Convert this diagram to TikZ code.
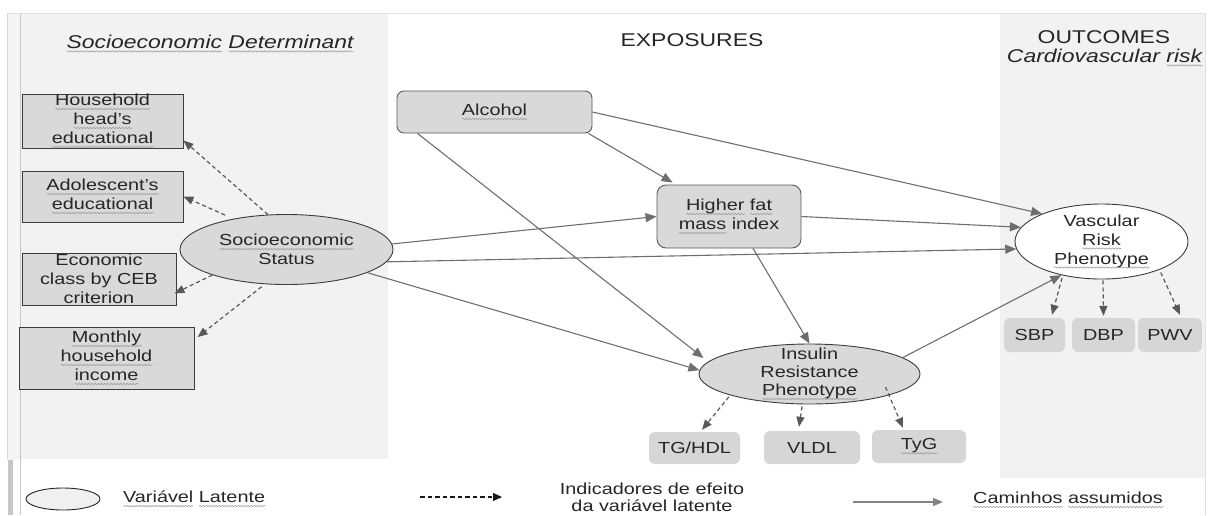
\documentclass[tikz,border=0pt]{standalone}
\usepackage{fontspec}
\setmainfont{Liberation Sans}[FakeStretch=1.24]
\usetikzlibrary{shapes.geometric,arrows.meta,calc,decorations.pathmorphing}

\definecolor{panelgray}{HTML}{F2F2F2}
\definecolor{nodegray}{HTML}{D9D9D9}
\definecolor{indgray}{HTML}{D6D6D6}
\definecolor{edgegray}{HTML}{3C3C3C}
\definecolor{pathgray}{HTML}{6E6E6E}
\definecolor{dashgray}{HTML}{585858}
\definecolor{inkgray}{HTML}{262626}

% light wavy underline under flagged words
\newsavebox\wvbox
\newcommand\wv[1]{\sbox\wvbox{#1}\rlap{\tikz[baseline=0pt]{\path (0pt,0pt);
  \draw[draw=black!38, fill=none, sharp corners, solid, -, line width=0.6pt,
        decorate, decoration={snake, amplitude=0.7pt, segment length=3.2pt}]
  (0pt,-3.4pt) -- (\wd\wvbox,-3.4pt);}}\usebox\wvbox}

\begin{document}
\begin{tikzpicture}[x=1pt,y=-1pt,
  every node/.style={font=\fontsize{16}{19}\selectfont, text=inkgray, align=center, inner sep=0pt},
  heading/.style={font=\fontsize{18.5}{22}\selectfont},
  itheading/.style={font=\fontsize{18.5}{22}\selectfont\itshape},
  sqbox/.style={draw=edgegray, line width=0.9pt, fill=nodegray},
  rbox/.style={draw=edgegray!85, line width=0.9pt, fill=nodegray, rounded corners=7pt},
  indbox/.style={fill=indgray, rounded corners=6pt},
  latent/.style={ellipse, draw=edgegray, line width=0.9pt, fill=nodegray},
  assumed/.style={draw=pathgray, line width=1.1pt, -{Triangle[length=11pt,width=9pt]}},
  ind/.style={draw=dashgray, line width=1.2pt, dash pattern=on 4pt off 3pt, -{Triangle[length=10pt,width=8pt]}},
]
\useasboundingbox (0,0) rectangle (1214,515);

% ---- panels and frame ----
\fill[black!4] (7,13) rectangle (20,460);
\fill[panelgray] (20,14) rectangle (388,459);
\fill[panelgray] (1000,14) rectangle (1205,478);
\draw[black!12, line width=0.8pt] (7,13.5) -- (1206,13.5);
\draw[black!14, line width=0.8pt] (7.5,13) -- (7.5,460);
\draw[black!22, line width=0.9pt] (20,14) -- (20,515);
\fill[black!22] (8,460) rectangle (13,515);
\draw[black!12, line width=0.8pt] (1205.5,13) -- (1205.5,515);

% ---- headings ----
\node[itheading, anchor=base] (hSoc) at (210,48) {\wv{Socioeconomic} \wv{Determinant}};
\node[heading, anchor=base] (hExp) at (692,46) {EXPOSURES};
\node[heading, anchor=base] (hOut) at (1104,43) {OUTCOMES};
\node[itheading, anchor=base] (hCv) at (1104.5,62) {Cardiovascular \wv{risk}};

% ---- socioeconomic indicators ----
\node[sqbox, minimum width=161pt, minimum height=54pt] (hh) at (102.5,121) {\wv{Household}\\\wv{head's}\\\wv{educational}};
\node[sqbox, minimum width=161pt, minimum height=51pt] (ado) at (102.5,196.5) {\wv{Adolescent's}\\\wv{educational}};
\node[sqbox, minimum width=154pt, minimum height=52pt] (eco) at (99,279) {Economic\\class by CEB\\criterion};
\node[sqbox, minimum width=175pt, minimum height=62pt] (mon) at (106.5,358) {\wv{Monthly}\\\wv{household}\\\wv{income}};

\node[latent, minimum width=213pt, minimum height=70pt] (ses) at (286.5,249.5) {};
\node (sesT) at (ses) {\wv{Socioeconomic}\\Status};

% ---- exposures ----
\node[rbox, minimum width=195pt, minimum height=42pt] (alc) at (494.5,112) {\wv{Alcohol}};
\node[rbox, minimum width=144pt, minimum height=63pt, rounded corners=9pt] (hfm) at (729,216.5) {\wv{Higher} \wv{fat}\\\wv{mass} index};

\node[latent, minimum width=221pt, minimum height=60pt] (irp) at (809.5,374) {};
\node[font=\fontsize{16}{18}\selectfont] (irpT) at (irp) {Insulin\\Resistance\\\wv{Phenotype}};

\node[indbox, minimum width=91pt, minimum height=32pt] (tg) at (694.5,448) {TG/HDL};
\node[indbox, minimum width=96pt, minimum height=33pt] (vldl) at (812,447.5) {VLDL};
\node[indbox, minimum width=94pt, minimum height=33pt] (tyg) at (919,446.5) {\wv{TyG}};

% ---- outcomes ----
\node[latent, fill=white, minimum width=173pt, minimum height=75pt] (vrp) at (1101.5,241.5) {};
\node (vrpT) at (vrp) {Vascular\\\wv{Risk}\\\wv{Phenotype}};

\node[indbox, minimum width=61pt, minimum height=34pt] (sbp) at (1034.5,335) {SBP};
\node[indbox, minimum width=63pt, minimum height=34pt] (dbp) at (1103.5,335) {DBP};
\node[indbox, minimum width=64pt, minimum height=34pt] (pwv) at (1170,335) {PWV};

% ---- assumed paths ----
\draw[assumed] ($(alc.south east)+(-4,0)$) -- ($(hfm.north west)+(16,-2)$);
\draw[assumed] (alc.east) -- (vrp.155);
\draw[assumed] ($(alc.south west)+(21,0)$) -- ($(irp.center)+(-106,-16)$);
\draw[assumed] (ses.3) -- (hfm.west);
\draw[assumed] (ses.-7) -- (vrp.185);
\draw[assumed] (ses.-16.5) -- (irp.178);
\draw[assumed] (hfm.east) -- (vrp.170);
\draw[assumed] ($(hfm.south)+(24,0)$) -- (irp.north);
\draw[assumed] (irp.10) -- (vrp.220);

% ---- indicators of the latent variables ----
\draw[ind] (ses.118.5) -- ($(hh.south east)+(0,-8)$);
\draw[ind, shorten <=9pt] (ses.150.6) -- (ado.east);
\draw[ind] (ses.199) -- ($(eco.south east)+(-2,-12)$);
\draw[ind, shorten <=4pt, shorten >=4pt] (ses.238) -- ($(mon.north east)+(0,13)$);
\draw[ind, shorten <=2pt] (irp.195) -- ($(tg.north)+(7.5,-2)$);
\draw[ind] ($(irp.south)+(-7.5,2)$) -- ($(vldl.north)+(-13,-4)$);
\draw[ind] ($(irp.center)+(76,13)$) -- ($(tyg.north)+(-16,-2)$);
\draw[ind] ($(vrp.center)+(-39.5,36.5)$) -- ($(sbp.north)+(17.5,-3)$);
\draw[ind] ($(vrp.south)+(1.5,1)$) -- ($(dbp.north)+(0,-2)$);
\draw[ind, shorten <=3pt] (vrp.-26) -- ($(pwv.north)+(10,-3)$);

% ---- legend ----
\node[ellipse, draw=black!85, line width=0.9pt, fill=black!6, minimum width=74pt, minimum height=22pt] (lgE) at (63,499) {};
\node[anchor=west] (lgEt) at (123,499) {\wv{Variável} \wv{Latente}};
\coordinate (ldA) at (420,497);
\coordinate (ldB) at (502,497);
\draw[black!90, line width=1.1pt, dash pattern=on 4.5pt off 3pt, -{Triangle[length=9pt,width=8pt]}] (ldA) -- (ldB);
\node[font=\fontsize{16}{17.5}\selectfont] (ldT) at (652,497.5) {Indicadores de efeito\\da variável latente};
\coordinate (lsA) at (853,502);
\coordinate (lsB) at (943,502);
\draw[pathgray!85, line width=1.1pt, -{Triangle[length=10pt,width=8pt]}] (lsA) -- (lsB);
\node[anchor=west] (lsT) at (973,500) {\wv{Caminhos} \wv{assumidos}};

\end{tikzpicture}
\end{document}
